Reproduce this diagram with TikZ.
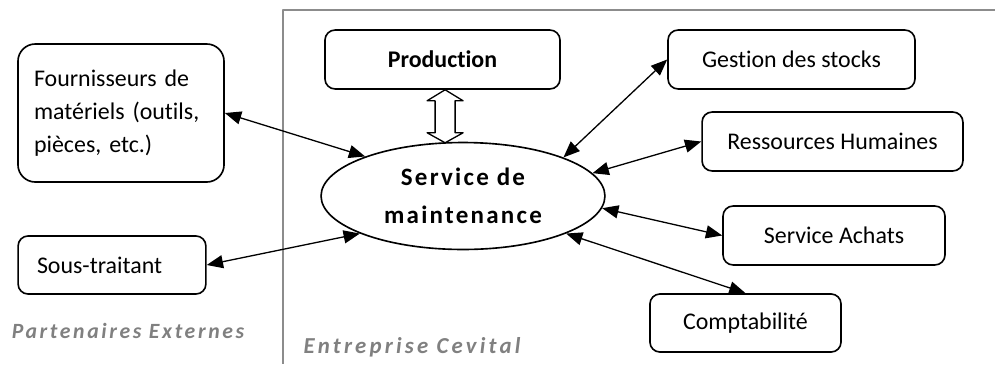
\documentclass[tikz,border=0pt]{standalone}
\usepackage{fontspec}
\setmainfont{Carlito}[Ligatures=NoCommon]
\newfontfamily\sparsebf[LetterSpace=9,Ligatures=NoCommon]{Carlito}
\newfontfamily\sparseit[LetterSpace=12,Ligatures=NoCommon]{Carlito}
\usetikzlibrary{arrows.meta,shapes.geometric}
\definecolor{ink}{HTML}{000000}
\definecolor{zoneline}{HTML}{8C8C8C}
\definecolor{zonetext}{HTML}{808080}
\tikzset{fig/.style={line join=round,>={Triangle[length=7.5pt,width=6pt]}},
  unit/.style={draw=ink,line width=0.75pt,rounded corners=4.6pt,inner sep=0pt,minimum height=27.1pt,align=center},
  link/.style={<->,line width=0.6pt},
  zone/.style={font=\sparseit\bfseries\itshape\fontsize{10}{12}\selectfont,text=zonetext}}

\begin{document}
\begin{tikzpicture}[fig,x=0.46pt,y=-0.46pt,font=\fontsize{11}{15.2}\selectfont]
  \useasboundingbox (0,0) rectangle (995,364);
  % frame of the company
  \draw[zoneline,line width=0.9pt] (995,10) -- (283,10) -- (283,364);
  \node[zone] (part) at (128,331) {Partenaires Externes};
  \node[zone,font=\sparseit\bfseries\itshape\fontsize{10.5}{12}\selectfont\addfontfeature{LetterSpace=14}] (ent) at (412,347) {Entreprise Cevital};
  % external partners
  \node[unit,rounded corners=8pt,text width=80pt,inner xsep=7.4pt,minimum height=63.5pt,align=left] (fourn) at (121,113) {Fournisseurs de\\ matériels (outils,\\ pièces, etc.)};
  \node[unit,text width=69pt,inner xsep=8.7pt,minimum height=26.7pt,align=left] (sous) at (112,265) {Sous-traitant};
  % company services
  \node[unit,minimum width=108.1pt,font=\bfseries\fontsize{11}{13}\selectfont] (prod) at (442.5,59.5) {Production};
  \node[draw=ink,line width=0.75pt,ellipse,inner sep=0pt,minimum width=130.6pt,minimum height=49.2pt,align=center,
    font=\sparsebf\bfseries\fontsize{11.5}{16.6}\selectfont] (serv) at (463,196) {\raisebox{1pt}{Service de}\\ maintenance};
  \node[unit,minimum width=113.6pt] (gest) at (791.5,59.5) {Gestion des stocks};
  \node[unit,minimum width=120pt] (rh) at (832.5,141.5) {Ressources Humaines};
  \node[unit,minimum width=102.1pt] (achat) at (834,235.5) {Service Achats};
  \node[unit,minimum width=87.9pt,minimum height=26.7pt] (compta) at (745.5,323) {Comptabilité};
  % hollow double arrow
  \draw[ink,line width=0.6pt,fill=white] ([xshift=1.2pt]prod.south) -- ++(18,11) -- ++(-8,0) -- ++(0,32) -- ++(8,0)
    -- ++(-18,10) -- ++(-18,-10) -- ++(8,0) -- ++(0,-32) -- ++(-8,0) -- cycle;
  % links
  \draw[link] (fourn.east) -- (serv.158);
  \draw[link] (sous.east) -- (serv.200);
  \draw[link] (serv.21) -- (gest.west);
  \draw[link] (serv.10) -- (rh.west);
  \draw[link] (serv.-5) -- (achat.west);
  \draw[link] (serv.-20) -- (compta.north);
\end{tikzpicture}
\end{document}
